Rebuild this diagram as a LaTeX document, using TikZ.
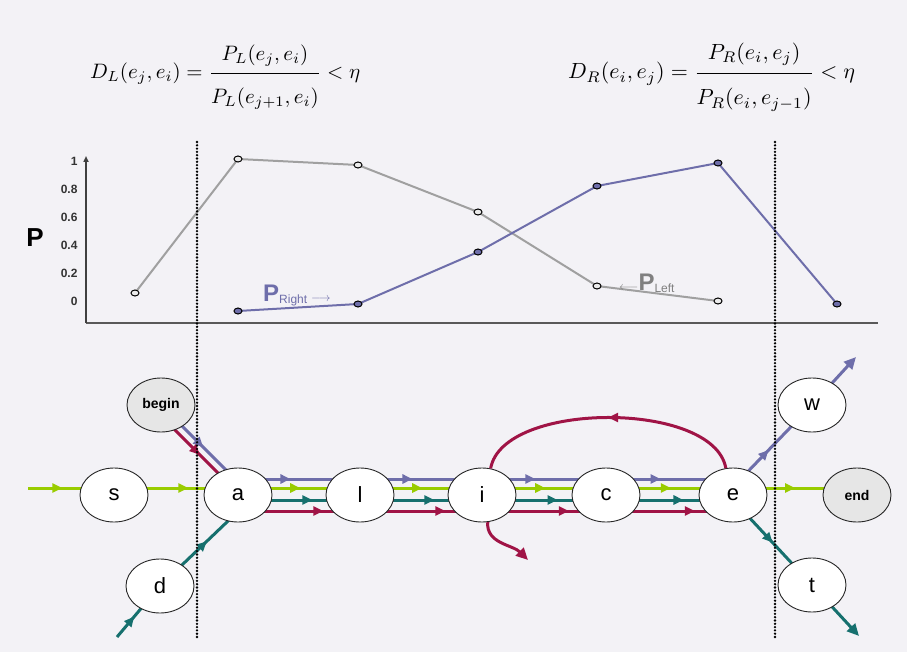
\documentclass[tikz,border=0pt]{standalone}
\usepackage{fontspec}
\setmainfont{Liberation Sans}
\usetikzlibrary{arrows.meta,decorations.markings,shapes.geometric}
\definecolor{bgc}{RGB}{243,242,246}
\definecolor{cblue}{RGB}{110,110,170}
\definecolor{cgreen}{RGB}{153,204,0}
\definecolor{cteal}{RGB}{22,112,110}
\definecolor{cred}{RGB}{160,20,70}
\definecolor{cgray}{RGB}{160,160,160}
\definecolor{cfill}{RGB}{230,230,230}
\pgfdeclarelayer{back}
\pgfdeclarelayer{bg}
\pgfsetlayers{back,bg,main}
\tikzset{
  st/.style={ellipse,draw=black!85,line width=0.9pt,fill=white,minimum width=68pt,minimum height=54pt,inner sep=0pt,font=\fontsize{22}{24}\selectfont},
  stg/.style={st,fill=cfill,font=\fontsize{14}{16}\selectfont\bfseries},
  flow/.style={line width=3pt},
  midarr/.style={postaction={decorate},decoration={markings,mark=at position #1 with {\arrow{Triangle[length=10pt,width=9pt]}}}},
  endarr/.style={-{Triangle[length=12pt,width=11pt]}},
  dotline/.style={line width=2.6pt,line cap=round,dash pattern=on 0pt off 3.3pt,black},
  pt/.style={ellipse,draw=black,line width=1pt,minimum width=8pt,minimum height=6pt,inner sep=0pt},
  tick/.style={anchor=east,font=\fontsize{12}{14}\selectfont\bfseries,text=black!80},
}
\begin{document}
\begin{tikzpicture}[x=1pt,y=-1pt]
\useasboundingbox (0,0) rectangle (907,652);
\begin{pgfonlayer}{back}
\fill[bgc] (0,0) rectangle (907,652);
\end{pgfonlayer}

% formulas
\node[anchor=west,inner sep=0pt] (fl) at (90,77) {\resizebox{270pt}{!}{$\displaystyle D_L(e_j,e_i)=\frac{\rule[-5pt]{0pt}{0pt}P_L(e_j,e_i)}{\rule{0pt}{13pt}P_L(e_{j+1},e_i)}<\eta$}};
\node[anchor=west,inner sep=0pt] (fr) at (568,77) {\resizebox{287pt}{!}{$\displaystyle D_R(e_i,e_j)=\frac{\rule[-5pt]{0pt}{0pt}P_R(e_i,e_j)}{\rule{0pt}{13pt}P_R(e_i,e_{j-1})}<\eta$}};

% axes
\coordinate (o) at (86,323);
\coordinate (ytop) at (86,156);
\coordinate (xend) at (878,323);
\draw[line width=2pt,black!65] (o) -- (xend);
\draw[line width=1.6pt,black!75,-{Triangle[length=6pt,width=5pt]}] (o) -- (ytop);
\node[tick] (t1) at (81,161) {1};
\node[tick] (t08) at (81,189) {0.8};
\node[tick] (t06) at (81,217) {0.6};
\node[tick] (t04) at (81,245) {0.4};
\node[tick] (t02) at (81,273) {0.2};
\node[tick] (t0) at (81,301) {0};
\node[font=\fontsize{26}{28}\selectfont\bfseries] (P) at (35,238) {P};

% dotted lines
\coordinate (d1a) at (197,142);
\coordinate (d1b) at (197,640);
\coordinate (d2a) at (775,142);
\coordinate (d2b) at (775,640);

% gray curve
\coordinate (g1) at (135,293);
\coordinate (g2) at (238,159);
\coordinate (g3) at (358,165);
\coordinate (g4) at (478,212);
\coordinate (g5) at (597,286);
\coordinate (g6) at (718,301);
\draw[cgray,line width=2pt] (g1) -- (g2) -- (g3) -- (g4) -- (g5) -- (g6);
\foreach \p in {g1,g2,g3,g4,g5,g6} \node[pt,fill=black!8] at (\p) {};
% blue curve
\coordinate (b1) at (238,311);
\coordinate (b2) at (358,304);
\coordinate (b3) at (478,252);
\coordinate (b4) at (597,186);
\coordinate (b5) at (718,163);
\coordinate (b6) at (837,304);
\draw[cblue,line width=2pt] (b1) -- (b2) -- (b3) -- (b4) -- (b5) -- (b6);
\foreach \p in {b1,b2,b3,b4,b5,b6} \node[pt,fill=cblue] at (\p) {};

\node[anchor=west,text=cblue,inner sep=0pt] (pr) at (263,295) {\fontsize{24}{26}\selectfont\bfseries P\raisebox{-2pt}{\fontsize{12}{13}\selectfont\mdseries Right}\,\fontsize{13}{13}\selectfont$\longrightarrow$};
\node[anchor=west,text=black!50,inner sep=0pt] (pl) at (619,283) {\fontsize{13}{13}\selectfont$\longleftarrow$\fontsize{24}{26}\selectfont\bfseries P\raisebox{-2pt}{\fontsize{12}{13}\selectfont\mdseries Left}};

% nodes
\node[stg] (begin) at (161,405) {begin};
\node[st] (s) at (114,495) {s};
\node[st] (a) at (238,495) {a};
\node[st] (l) at (360,495) {l};
\node[st] (i) at (482,495) {i};
\node[st] (c) at (606,495) {c};
\node[st] (e) at (733,495) {e};
\node[st] (w) at (812,405) {w};
\node[stg] (end) at (857,495) {end};
\node[st] (d) at (160,586) {d};
\node[st] (t) at (812,585) {t};

\coordinate (gin) at (28,488);
\coordinate (tin) at (117,637);
\coordinate (wout) at (856,357);
\coordinate (tout) at (859,636);
\coordinate (iout) at (528,560);

\begin{pgfonlayer}{bg}
% green
\draw[flow,cgreen,midarr=0.4] (gin) -- ([shift={(0,-7)}]s.center);
\draw[flow,cgreen,midarr=0.6] ([shift={(0,-7)}]s.center) -- ([shift={(0,-7)}]a.center);
\foreach \u/\v in {a/l,l/i,i/c,c/e}
  \draw[flow,cgreen,midarr=0.51] ([shift={(0,-7)}]\u.center) -- ([shift={(0,-7)}]\v.center);
\draw[flow,cgreen,midarr=0.5] ([shift={(0,-7)}]e.center) -- ([shift={(0,-7)}]end.center);
% blue
\draw[flow,cblue,midarr=0.57] (begin.center) -- ([shift={(-3,-16)}]a.center);
\foreach \u/\v in {a/l,l/i,i/c,c/e}
  \draw[flow,cblue,midarr=0.43] ([shift={(0,-16)}]\u.center) -- ([shift={(0,-16)}]\v.center);
\draw[flow,cblue,midarr=0.45] ([shift={(0,-8)}]e.center) -- (w.center);
\draw[flow,cblue,endarr] (w.center) -- (wout);
% red
\draw[flow,cred,midarr=0.52] ([shift={(-5,6)}]begin.center) -- ([shift={(2,0)}]a.center);
\foreach \u/\v in {a/l,l/i,i/c,c/e}
  \draw[flow,cred,midarr=0.7] ([shift={(0,16)}]\u.center) -- ([shift={(0,16)}]\v.center);
% teal
\draw[flow,cteal,midarr=0.4] (tin) -- (d.center);
\draw[flow,cteal,midarr=0.52] (d.center) -- ([shift={(12,5)}]a.center);
\foreach \u/\v in {a/l,l/i,i/c,c/e}
  \draw[flow,cteal,midarr=0.61] ([shift={(0,5)}]\u.center) -- ([shift={(0,5)}]\v.center);
\draw[flow,cteal,midarr=0.5] ([shift={(0,5)}]e.center) -- (t.center);
\draw[flow,cteal,endarr] (t.center) -- (tout);
\end{pgfonlayer}
% red arc and exit (on top)
\draw[flow,cred,midarr=0.5] (e.105) to[out=100,in=80,looseness=0.75] (i.72);
\draw[flow,cred,endarr] (i.-78) to[out=-95,in=135] (iout);
% dotted lines on top
\draw[dotline] (d1a) -- (d1b);
\draw[dotline] (d2a) -- (d2b);
\end{tikzpicture}
\end{document}
